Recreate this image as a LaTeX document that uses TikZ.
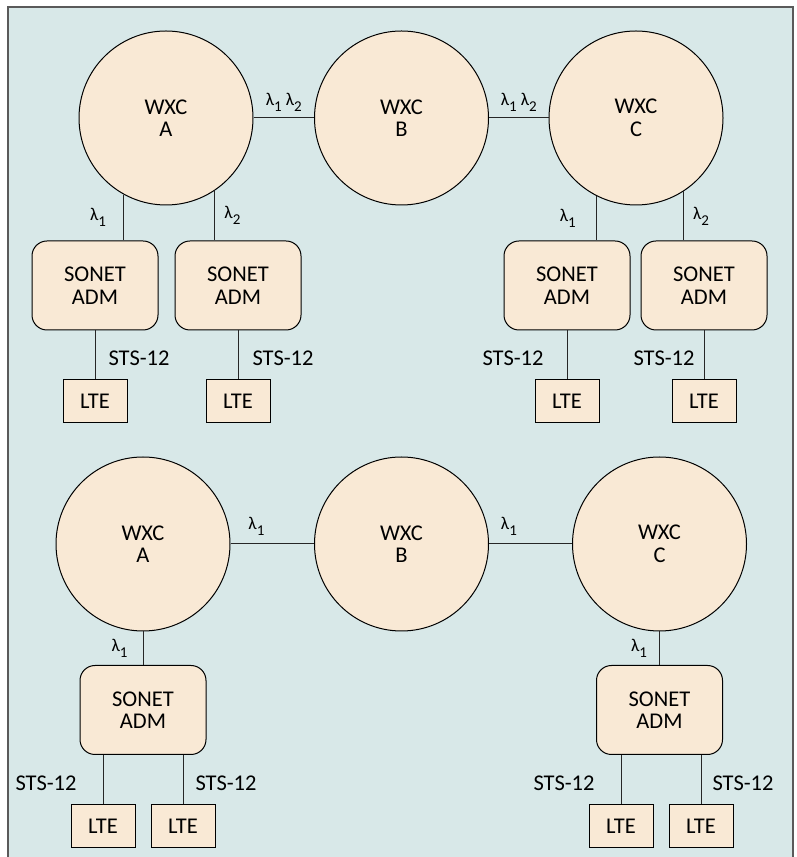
\documentclass[tikz,border=0pt]{standalone}
\usepackage{fontspec}
\setmainfont{Carlito}
\usetikzlibrary{positioning}
\definecolor{panelbg}{HTML}{D8E8E8}
\definecolor{boxfill}{HTML}{F9E9D5}
\definecolor{framegray}{HTML}{5A5A5A}
\newcommand\lam[1]{λ\raisebox{-0.33em}{\fontsize{15}{15}\selectfont #1}}

\begin{document}
\begin{tikzpicture}[
      x=1pt, y=1pt,
      node distance=49pt and 40pt,
      every node/.append style={font=\fontsize{22.5}{22.5}\selectfont},
      wxc/.style={circle, draw, line width=1pt, fill=boxfill,
                  minimum size=174pt, inner sep=0pt, align=center},
      adm/.style={rectangle, rounded corners=15pt, draw, line width=1pt,
                  fill=boxfill, minimum width=126pt, minimum height=89pt,
                  inner sep=0pt, align=center},
      lte/.style={rectangle, draw, line width=1pt, fill=boxfill,
                  minimum width=64pt, minimum height=43pt, inner sep=0pt},
      link/.style={draw=black!85, line width=1pt},
      lbl/.style={inner sep=0pt},
      wl/.style={lbl, font=\fontsize{18}{18}\selectfont},
    ]
      % panel
      \useasboundingbox (0,0) rectangle (796,857);
      \fill[panelbg] (8,0) rectangle (793,850);
      \draw[framegray, line width=1.2pt] (8,0) |- (793,850) -- (793,0);

      % upper ring: two wavelengths
      \node[wxc] (wxcA) at (166,739) {WXC\\A};
      \node[wxc] (wxcB) at (401.5,739) {WXC\\B};
      \node[wxc] (wxcC) at (636,739) {WXC\\C};
      \node[adm] (adm1) at (95,571.5) {SONET\\ADM};
      \node[adm] (adm2) at (238,571.5) {SONET\\ADM};
      \node[adm] (adm3) at (567,571.5) {SONET\\ADM};
      \node[adm] (adm4) at (704,571.5) {SONET\\ADM};
      \node[lte, below=of adm1] (lte1) {LTE};
      \node[lte, below=of adm2] (lte2) {LTE};
      \node[lte, below=of adm3] (lte3) {LTE};
      \node[lte, below=of adm4] (lte4) {LTE};

      \draw[link] (wxcA) -- (wxcB) node[wl, midway, above=6pt] {\lam1\ \lam2};
      \draw[link] (wxcB) -- (wxcC) node[wl, midway, above=6pt] {\lam1\ \lam2};
      \draw[link] (wxcA.241) -- (wxcA.241 |- adm1.north)
            node[wl, midway, left=17pt] {\lam1};
      \draw[link] (wxcA.304) -- (wxcA.304 |- adm2.north)
            node[wl, midway, right=9pt] {\lam2};
      \draw[link] (wxcC.243) -- (wxcC.243 |- adm3.north)
            node[wl, midway, left=20pt] {\lam1};
      \draw[link] (wxcC.303) -- (wxcC.303 |- adm4.north)
            node[wl, midway, right=9pt] {\lam2};
      \draw[link] (adm1) -- (lte1) node[lbl, midway, right=13pt, yshift=-3pt] {STS-12};
      \draw[link] (adm2) -- (lte2) node[lbl, midway, right=14pt, yshift=-3pt] {STS-12};
      \draw[link] (adm3) -- (lte3) node[lbl, midway, left=23pt, yshift=-3pt] {STS-12};
      \draw[link] (adm4) -- (lte4) node[lbl, midway, left=9pt, yshift=-3pt] {STS-12};

      % lower ring: one wavelength
      \node[wxc] (wxcA2) at (143,313) {WXC\\A};
      \node[wxc] (wxcB2) at (401.5,313) {WXC\\B};
      \node[wxc] (wxcC2) at (659.5,313) {WXC\\C};
      \node[adm] (adm5) at (143,147) {SONET\\ADM};
      \node[adm] (adm6) at (659.5,147) {SONET\\ADM};
      \node[lte, below=49pt of adm5, xshift=-40pt] (lte5) {LTE};
      \node[lte, below=49pt of adm5, xshift=40pt] (lte6) {LTE};
      \node[lte, below=49pt of adm6, xshift=-38.5pt] (lte7) {LTE};
      \node[lte, below=49pt of adm6, xshift=41.5pt] (lte8) {LTE};

      \draw[link] (wxcA2) -- (wxcB2) node[wl, pos=0.31, above=8pt] {\lam1};
      \draw[link] (wxcB2) -- (wxcC2) node[wl, pos=0.24, above=8pt] {\lam1};
      \draw[link] (wxcA2) -- (adm5) node[wl, midway, left=15pt] {\lam1};
      \draw[link] (wxcC2) -- (adm6) node[wl, midway, left=12pt] {\lam1};
      \draw[link] (lte5 |- adm5.south) -- (lte5)
            node[lbl, midway, left=26pt, yshift=-3.5pt] {STS-12};
      \draw[link] (lte6 |- adm5.south) -- (lte6)
            node[lbl, midway, right=12pt, yshift=-3.5pt] {STS-12};
      \draw[link] (lte7 |- adm6.south) -- (lte7)
            node[lbl, midway, left=26pt, yshift=-3.5pt] {STS-12};
      \draw[link] (lte8 |- adm6.south) -- (lte8)
            node[lbl, midway, right=11pt, yshift=-3.5pt] {STS-12};
    \end{tikzpicture}
\end{document}
